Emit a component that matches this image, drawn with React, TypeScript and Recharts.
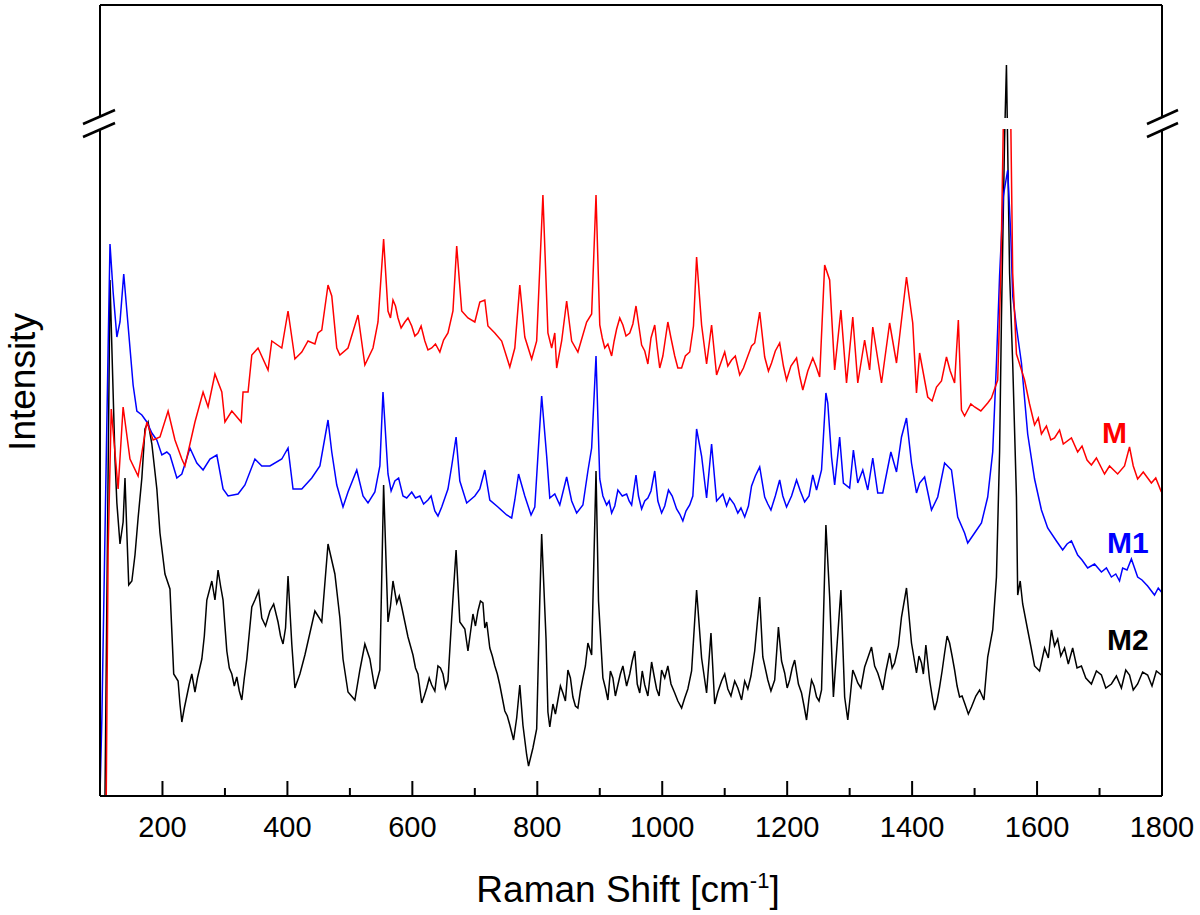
import React from 'react';
import { LineChart, Line, XAxis, YAxis, ReferenceLine } from 'recharts';

// Raman spectra, intensity in arbitrary units
const redShift = [110, 113, 118, 129, 137, 148, 161, 175, 185, 196, 209, 220, 231, 236, 252, 265, 273, 284, 295, 300, 311, 326, 329, 337, 343, 353, 369, 375, 391, 401, 412, 423, 433, 444, 449, 455, 465, 471, 479, 484, 497, 513, 524, 537, 545, 554, 561, 569, 577, 588, 599, 609, 620, 631, 644, 657, 665, 671, 679, 689, 700, 708, 716, 721, 732, 743, 756, 764, 772, 780, 791, 799, 809, 817, 823, 828, 831, 839, 847, 855, 865, 879, 887, 894, 900, 908, 919, 927, 937, 948, 958, 967, 977, 988, 996, 1009, 1020, 1031, 1044, 1055, 1063, 1071, 1079, 1087, 1100, 1111, 1124, 1137, 1148, 1156, 1164, 1175, 1188, 1199, 1215, 1225, 1241, 1252, 1260, 1268, 1276, 1286, 1295, 1305, 1313, 1324, 1332, 1337, 1351, 1364, 1375, 1391, 1401, 1407, 1412, 1425, 1439, 1455, 1468, 1474, 1479, 1489, 1500, 1521, 1532, 1537, 1542, 1546, 1552, 1558, 1561, 1567, 1580, 1588, 1596, 1602, 1607, 1615, 1622, 1628, 1636, 1642, 1655, 1665, 1672, 1680, 1687, 1695, 1708, 1716, 1729, 1740, 1748, 1754, 1761, 1770, 1783, 1790, 1799];
const redIntensity = [0, 245, 387, 307, 389, 337, 320, 374, 356, 359, 385, 356, 337, 330, 374, 404, 389, 422, 404, 374, 385, 374, 404, 404, 441, 448, 426, 455, 448, 485, 437, 444, 455, 452, 463, 466, 511, 500, 448, 441, 448, 481, 431, 448, 474, 557, 485, 496, 478, 474, 470, 463, 455, 448, 444, 463, 485, 550, 485, 478, 474, 494, 496, 470, 463, 455, 429, 448, 511, 459, 437, 455, 601, 463, 448, 463, 428, 455, 495, 455, 444, 474, 482, 601, 471, 448, 440, 467, 471, 463, 490, 451, 432, 471, 428, 474, 440, 428, 444, 539, 471, 432, 471, 421, 444, 436, 421, 440, 453, 484, 439, 433, 453, 416, 438, 406, 438, 419, 531, 516, 426, 486, 413, 479, 413, 456, 426, 469, 413, 473, 433, 519, 473, 403, 443, 399, 409, 439, 413, 476, 386, 386, 389, 393, 407, 416, 523, 672, 676, 672, 523, 442, 416, 392, 371, 378, 362, 370, 356, 358, 366, 352, 358, 344, 350, 336, 331, 338, 322, 330, 322, 330, 349, 330, 317, 324, 313, 318, 304];
// extra noise detail on the red trace
const redShiftFine = [565, 573, 582, 593, 604, 614, 625, 637, 650, 904, 913, 923, 932, 942, 953, 972, 982, 992, 1001, 1014, 1025, 1037, 1050, 1105, 1117, 1130, 1143, 1170, 1181, 1194, 1206, 1220, 1233, 1246, 1432, 1447, 1461, 1484, 1494, 1510, 1527];
const redIntensityFine = [478, 490, 468, 478, 460, 470, 446, 452, 456, 458, 452, 455, 478, 460, 472, 445, 458, 448, 440, 458, 428, 440, 470, 430, 440, 428, 450, 425, 445, 430, 430, 420, 425, 430, 395, 415, 425, 380, 392, 385, 398];

const blueShift = [100, 103, 108, 113, 116, 121, 127, 132, 138, 143, 148, 153, 159, 167, 175, 183, 191, 199, 207, 212, 223, 231, 244, 255, 265, 276, 287, 297, 305, 321, 332, 348, 359, 372, 391, 401, 409, 423, 439, 452, 465, 471, 479, 489, 497, 511, 521, 529, 540, 548, 553, 561, 572, 585, 599, 612, 625, 636, 647, 657, 663, 670, 676, 687, 700, 708, 716, 724, 737, 751, 759, 764, 770, 780, 790, 796, 801, 807, 815, 820, 828, 836, 847, 855, 863, 873, 881, 887, 894, 900, 911, 919, 929, 943, 951, 958, 967, 977, 988, 999, 1010, 1023, 1033, 1044, 1055, 1063, 1071, 1079, 1087, 1097, 1108, 1121, 1132, 1143, 1156, 1164, 1174, 1188, 1199, 1215, 1228, 1241, 1247, 1255, 1262, 1265, 1271, 1276, 1284, 1290, 1300, 1306, 1313, 1321, 1329, 1337, 1345, 1353, 1366, 1375, 1383, 1391, 1399, 1407, 1412, 1420, 1431, 1441, 1452, 1463, 1473, 1484, 1489, 1500, 1511, 1521, 1529, 1535, 1540, 1546, 1553, 1558, 1561, 1567, 1575, 1585, 1596, 1607, 1617, 1631, 1641, 1648, 1655, 1665, 1672, 1681, 1692, 1703, 1711, 1719, 1726, 1732, 1737, 1744, 1751, 1761, 1768, 1777, 1788, 1794, 1799];
const blueIntensity = [0, 78, 263, 448, 552, 504, 459, 474, 522, 485, 448, 411, 385, 381, 374, 363, 356, 341, 344, 341, 318, 322, 348, 333, 326, 337, 341, 307, 300, 302, 311, 337, 330, 330, 337, 348, 307, 307, 318, 330, 376, 344, 311, 289, 304, 326, 300, 293, 304, 330, 404, 322, 315, 300, 304, 300, 296, 285, 289, 307, 330, 359, 315, 293, 300, 307, 326, 296, 289, 281, 278, 296, 322, 300, 281, 289, 340, 400, 340, 298, 302, 291, 319, 295, 283, 291, 325, 348, 440, 317, 291, 283, 306, 302, 291, 321, 287, 298, 325, 283, 306, 287, 275, 291, 367, 340, 298, 352, 295, 302, 298, 283, 279, 310, 329, 299, 286, 316, 289, 316, 294, 321, 306, 326, 403, 393, 339, 311, 359, 313, 308, 346, 313, 326, 306, 338, 303, 303, 344, 324, 359, 378, 333, 303, 313, 319, 286, 299, 333, 326, 279, 263, 253, 263, 273, 299, 344, 433, 520, 600, 626, 560, 500, 469, 433, 362, 317, 286, 268, 255, 246, 252, 255, 241, 236, 228, 232, 224, 228, 219, 222, 215, 228, 226, 237, 219, 216, 210, 201, 208, 204];
const blueShiftFine = [566, 578, 591, 605, 618, 630, 641, 905, 915, 924, 936, 947, 962, 972, 982, 993, 1004, 1016, 1028, 1038, 1049, 1103, 1115, 1126, 1138, 1149, 1169, 1181, 1193, 1207, 1221, 1235];
const blueIntensityFine = [305, 318, 298, 298, 292, 300, 280, 300, 295, 290, 300, 295, 300, 295, 305, 295, 290, 300, 282, 285, 300, 290, 292, 288, 290, 320, 292, 300, 300, 300, 305, 300];

const blackShift = [108, 111, 116, 119, 124, 127, 132, 137, 140, 143, 146, 151, 156, 161, 167, 172, 177, 183, 191, 196, 204, 212, 218, 225, 231, 239, 247, 252, 263, 271, 279, 284, 289, 297, 303, 311, 319, 327, 335, 343, 348, 359, 372, 385, 393, 401, 407, 412, 420, 428, 436, 444, 455, 465, 476, 484, 489, 497, 508, 516, 524, 532, 540, 548, 554, 561, 569, 575, 583, 588, 593, 601, 609, 615, 623, 631, 641, 649, 657, 663, 670, 676, 684, 689, 697, 705, 713, 719, 724, 732, 740, 748, 756, 762, 767, 772, 777, 783, 786, 793, 799, 804, 807, 814, 817, 820, 825, 833, 841, 849, 857, 865, 873, 881, 887, 894, 898, 905, 913, 921, 929, 937, 948, 956, 964, 972, 983, 991, 999, 1009, 1020, 1031, 1041, 1055, 1063, 1071, 1078, 1084, 1095, 1105, 1116, 1127, 1137, 1148, 1156, 1161, 1169, 1180, 1186, 1196, 1204, 1212, 1223, 1231, 1239, 1247, 1255, 1262, 1268, 1274, 1286, 1292, 1297, 1305, 1313, 1324, 1335, 1345, 1353, 1364, 1372, 1383, 1391, 1399, 1407, 1415, 1422, 1428, 1436, 1444, 1452, 1460, 1468, 1476, 1484, 1495, 1502, 1508, 1515, 1521, 1529, 1535, 1540, 1543, 1548, 1551, 1556, 1561, 1567, 1569, 1573, 1577, 1585, 1590, 1596, 1604, 1612, 1618, 1623, 1628, 1633, 1638, 1644, 1650, 1657, 1664, 1671, 1678, 1687, 1695, 1703, 1710, 1719, 1727, 1735, 1742, 1748, 1754, 1761, 1769, 1777, 1784, 1791, 1799];
const blackIntensity = [0, 196, 516, 448, 337, 293, 252, 274, 318, 263, 211, 215, 241, 278, 318, 367, 374, 352, 307, 263, 222, 207, 122, 115, 74, 100, 122, 104, 137, 196, 215, 196, 226, 196, 145, 122, 119, 96, 137, 189, 196, 178, 185, 174, 152, 220, 152, 108, 122, 141, 163, 185, 174, 252, 222, 178, 137, 104, 96, 126, 152, 137, 107, 126, 311, 174, 215, 193, 189, 174, 159, 141, 122, 93, 108, 111, 130, 122, 115, 178, 246, 174, 167, 145, 182, 185, 193, 174, 148, 130, 111, 85, 71, 56, 78, 111, 71, 41, 30, 48, 67, 196, 262, 157, 84, 69, 92, 96, 103, 126, 99, 88, 118, 153, 141, 325, 195, 118, 96, 118, 111, 130, 122, 145, 103, 111, 134, 107, 126, 130, 103, 88, 107, 206, 138, 103, 163, 92, 115, 107, 115, 96, 107, 145, 199, 139, 116, 116, 169, 123, 116, 136, 103, 76, 116, 99, 106, 271, 199, 99, 206, 99, 76, 126, 113, 129, 149, 123, 106, 143, 133, 179, 208, 153, 123, 133, 151, 116, 86, 109, 143, 153, 126, 99, 93, 89, 100, 106, 96, 139, 166, 219, 344, 478, 657, 731, 523, 433, 299, 201, 215, 192, 166, 150, 130, 125, 148, 138, 166, 150, 157, 140, 148, 132, 148, 128, 130, 118, 112, 125, 121, 108, 112, 120, 108, 126, 121, 106, 112, 124, 121, 110, 125, 121];
// extra noise detail on the black trace
const blackShiftFine = [228, 235, 243, 256, 267, 293, 300, 307, 315, 323, 331, 354, 365, 378, 389, 397, 565, 579, 597, 605, 619, 627, 636, 645, 653, 701, 709, 716, 728, 736, 744, 752, 829, 837, 845, 853, 861, 869, 877, 909, 917, 925, 933, 943, 952, 960, 968, 977, 987, 995, 1004, 1014, 1025, 1036, 1047, 1089, 1100, 1110, 1121, 1132, 1142, 1174, 1191, 1200, 1208, 1218, 1227, 1235, 1243, 1251, 1301, 1309, 1318, 1329, 1340, 1349, 1358, 1368, 1378, 1411, 1418, 1432, 1440, 1448, 1456, 1464, 1472, 1480, 1490];
const blackIntensityFine = [92, 88, 112, 118, 160, 210, 170, 128, 110, 105, 118, 205, 170, 192, 160, 168, 190, 200, 150, 128, 100, 118, 105, 128, 108, 170, 195, 168, 140, 122, 98, 80, 82, 110, 95, 118, 90, 105, 130, 108, 125, 100, 122, 110, 135, 112, 125, 100, 120, 100, 118, 112, 95, 98, 125, 104, 122, 100, 108, 115, 120, 105, 135, 108, 128, 112, 90, 98, 110, 95, 100, 120, 108, 138, 130, 115, 125, 128, 150, 140, 122, 100, 95, 125, 160, 140, 110, 100, 82];

const xTicks = [200, 300, 400, 500, 600, 700, 800, 900, 1000, 1100, 1200, 1300, 1400, 1500, 1600, 1700, 1800];

const toRows = (xs: number[], ys: number[], fx: number[], fy: number[]) =>
  xs
    .map((shift, i) => ({ shift, intensity: ys[i] }))
    .concat(fx.map((shift, i) => ({ shift, intensity: fy[i] })))
    .sort((a, b) => a.shift - b.shift);

const redRows = toRows(redShift, redIntensity, redShiftFine, redIntensityFine);
const blueRows = toRows(blueShift, blueIntensity, blueShiftFine, blueIntensityFine);
const blackRows = toRows(blackShift, blackIntensity, blackShiftFine, blackIntensityFine);

const FONT = '"Liberation Sans", Arial, Helvetica, sans-serif';

const ShiftTick = (props: any) => {
  const { x, y, payload } = props;
  const major = payload.value % 200 === 0;
  return (
    <g>
      <line x1={x} x2={x} y1={y} y2={y - (major ? 15 : 8)} stroke="#000" strokeWidth={2} />
      {major && (
        <text x={x} y={y + 41} textAnchor="middle" fontSize={29} fontFamily={FONT} fill="#000">
          {payload.value}
        </text>
      )}
    </g>
  );
};

export default function App() {
  return (
    <div style={{ position: 'absolute', left: 0, top: 0, width: 1200, height: 915, background: '#fff' }}>
      <LineChart width={1200} height={915} margin={{ top: 5, right: 38, bottom: 0, left: 100 }}>
        <XAxis
          dataKey="shift"
          type="number"
          domain={[100, 1800]}
          allowDataOverflow
          ticks={xTicks}
          tick={<ShiftTick />}
          tickLine={false}
          tickSize={0}
          tickMargin={0}
          height={119}
          axisLine={{ stroke: '#000', strokeWidth: 2 }}
        />
        <YAxis type="number" domain={[0, 791]} allowDataOverflow hide />
        <Line data={blackRows} dataKey="intensity" type="linear" stroke="#000000" strokeWidth={1.5} dot={false} isAnimationActive={false} />
        <Line data={blueRows} dataKey="intensity" type="linear" stroke="#0000ff" strokeWidth={1.5} dot={false} isAnimationActive={false} />
        <Line data={redRows} dataKey="intensity" type="linear" stroke="#ff0000" strokeWidth={1.5} dot={false} isAnimationActive={false} />
        {/* frame */}
        <ReferenceLine x={100} stroke="#000" strokeWidth={2} />
        <ReferenceLine x={1800} stroke="#000" strokeWidth={2} />
        <ReferenceLine y={791} stroke="#000" strokeWidth={2} />
      </LineChart>
      <svg width={1200} height={915} style={{ position: 'absolute', left: 0, top: 0, pointerEvents: 'none' }}>
        {/* axis break */}
        <rect x={101} y={118} width={1060} height={11} fill="#fff" />
        <polygon points="83,124 115,110 115,123 83,137" fill="#fff" />
        <polygon points="1147,124 1178,110 1178,123 1147,137" fill="#fff" />
        <line x1={83} y1={124} x2={115} y2={110} stroke="#000" strokeWidth={2.5} />
        <line x1={83} y1={137} x2={115} y2={123} stroke="#000" strokeWidth={2.5} />
        <line x1={1147} y1={124} x2={1178} y2={110} stroke="#000" strokeWidth={2.5} />
        <line x1={1147} y1={137} x2={1178} y2={123} stroke="#000" strokeWidth={2.5} />
        <text x={1102} y={443} fontSize={30} fontWeight="bold" fontFamily={FONT} fill="#ff0000">M</text>
        <text x={1107} y={553} fontSize={30} fontWeight="bold" fontFamily={FONT} fill="#0000ff">M1</text>
        <text x={1107} y={650} fontSize={30} fontWeight="bold" fontFamily={FONT} fill="#000">M2</text>
        <text transform="translate(35,382) rotate(-90)" textAnchor="middle" fontSize={37} fontFamily={FONT} fill="#000">
          Intensity
        </text>
        <text x={628} y={902} textAnchor="middle" fontSize={37} fontFamily={FONT} fill="#000">
          Raman Shift [cm<tspan dy={-14} fontSize={22}>-1</tspan><tspan dy={14}>]</tspan>
        </text>
      </svg>
    </div>
  );
}
